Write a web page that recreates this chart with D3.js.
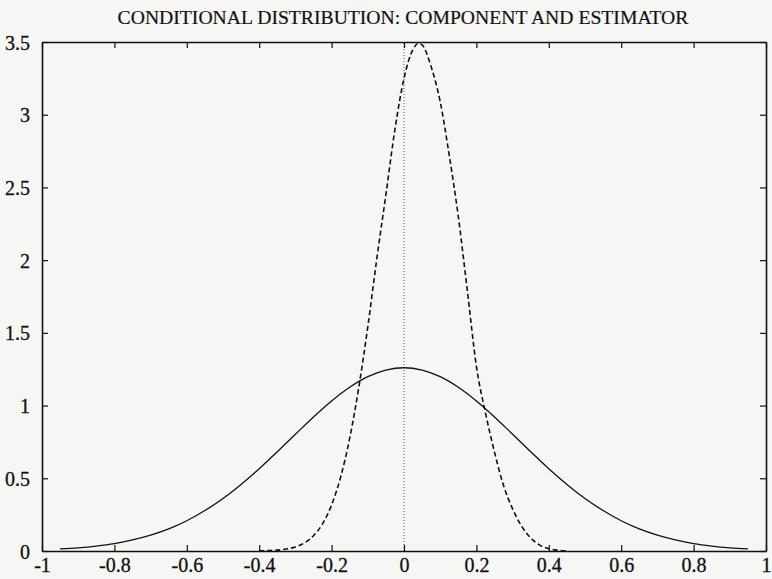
<!DOCTYPE html>
<html>
<head>
<meta charset="utf-8">
<script src="https://cdn.jsdelivr.net/npm/d3@7"></script>
<style>
  html, body { margin: 0; padding: 0; background: #f6f6f4; }
  svg { display: block; }
  text { font-family: "Liberation Serif", "DejaVu Serif", serif; fill: #111; }
</style>
</head>
<body>
<svg id="chart" width="772" height="579"></svg>
<script>
// ---- data ----
const titleText = "CONDITIONAL DISTRIBUTION: COMPONENT AND ESTIMATOR";
const xTicks = [-1, -0.8, -0.6, -0.4, -0.2, 0, 0.2, 0.4, 0.6, 0.8, 1];
const yTicks = [0, 0.5, 1, 1.5, 2, 2.5, 3, 3.5];

// solid curve: component density
const componentX = [-0.95,-0.9,-0.85,-0.8,-0.75,-0.7,-0.65,-0.6,-0.55,-0.5,-0.45,-0.4,-0.35,-0.3,-0.25,-0.2,-0.15,-0.1,-0.05,0,
                    0.05,0.1,0.15,0.2,0.25,0.3,0.35,0.4,0.45,0.5,0.55,0.6,0.65,0.7,0.75,0.8,0.85,0.9,0.95];
const componentY = [0.014,0.022,0.034,0.051,0.076,0.109,0.152,0.208,0.278,0.361,0.458,0.566,0.683,0.803,0.922,1.032,1.126,1.199,1.244,1.26,
                    1.244,1.199,1.126,1.032,0.922,0.803,0.683,0.566,0.458,0.361,0.278,0.208,0.152,0.109,0.076,0.051,0.034,0.022,0.014];

// dashed curve: estimator density
const estimatorX = [-0.4,-0.375,-0.35,-0.325,-0.3,-0.275,-0.25,-0.225,-0.2,-0.175,-0.15,-0.125,-0.1,-0.075,-0.05,-0.025,0,0.025,0.04,
                    0.05,0.075,0.1,0.125,0.15,0.175,0.2,0.225,0.25,0.275,0.3,0.325,0.35,0.375,0.4,0.425,0.45];
const estimatorY = [0.001,0.003,0.006,0.014,0.028,0.056,0.105,0.187,0.317,0.509,0.776,1.123,1.542,2.012,2.45,2.9,3.25,3.45,3.49,
                    3.48,3.33,3.09,2.72,2.30,1.79,1.27,0.95,0.68,0.45,0.29,0.17,0.09,0.04,0.015,0.005,0.001];

// ---- layout ----
const svg = d3.select("#chart");
const L = 42, R = 766, T = 42, B = 551;
const x = d3.scaleLinear().domain([-1, 1]).range([L, R]);
const y = d3.scaleLinear().domain([0, 3.5]).range([B, T]);
const fmt = d => String(d);

// zero line (dotted)
svg.append("line")
  .attr("x1", x(0)).attr("x2", x(0)).attr("y1", y(0)).attr("y2", y(3.5))
  .attr("stroke", "#555").attr("stroke-width", 1).attr("stroke-dasharray", "1,2");

const line = d3.line().curve(d3.curveMonotoneX).x(d => x(d[0])).y(d => y(d[1]));

svg.append("path")
  .datum(componentX.map((v, i) => [v, componentY[i]]))
  .attr("d", line).attr("fill", "none").attr("stroke", "#111").attr("stroke-width", 1.3);

svg.append("path")
  .datum(estimatorX.map((v, i) => [v, estimatorY[i]]))
  .attr("d", line).attr("fill", "none").attr("stroke", "#111").attr("stroke-width", 1.6)
  .attr("stroke-dasharray", "5,3");

// axes (ticks inward on all four sides)
const tickLen = 6;
const axB = svg.append("g").attr("transform", `translate(0,${B})`)
  .call(d3.axisBottom(x).tickValues(xTicks).tickSizeInner(-tickLen).tickSizeOuter(0).tickPadding(7).tickFormat(fmt));
const axT = svg.append("g").attr("transform", `translate(0,${T})`)
  .call(d3.axisTop(x).tickValues(xTicks).tickSizeInner(-tickLen).tickSizeOuter(0).tickFormat(""));
const axL = svg.append("g").attr("transform", `translate(${L},0)`)
  .call(d3.axisLeft(y).tickValues(yTicks).tickSizeInner(-tickLen).tickSizeOuter(0).tickPadding(12).tickFormat(fmt));
const axR = svg.append("g").attr("transform", `translate(${R},0)`)
  .call(d3.axisRight(y).tickValues(yTicks).tickSizeInner(-tickLen).tickSizeOuter(0).tickFormat(""));

[axB, axT, axL, axR].forEach(g => {
  g.select(".domain").attr("stroke", "#111").attr("stroke-width", 1.6);
  g.selectAll(".tick line").attr("stroke", "#111").attr("stroke-width", 1.2);
  g.selectAll("text").attr("font-family", "'Liberation Serif', serif").attr("font-size", 20)
    .attr("fill", "#111").attr("stroke", "#111").attr("stroke-width", 0.3);
});
axL.selectAll("text").attr("dy", "0.35em");

// title: fit to the reference width
const title = svg.append("text")
  .attr("x", 403).attr("y", 24)
  .attr("text-anchor", "middle")
  .attr("font-family", "'Liberation Serif', serif")
  .attr("font-size", 20)
  .attr("stroke", "#111").attr("stroke-width", 0.2)
  .text(titleText);
const w = title.node().getComputedTextLength();
title.attr("font-size", 20 * 571 / w);
</script>
</body>
</html>
